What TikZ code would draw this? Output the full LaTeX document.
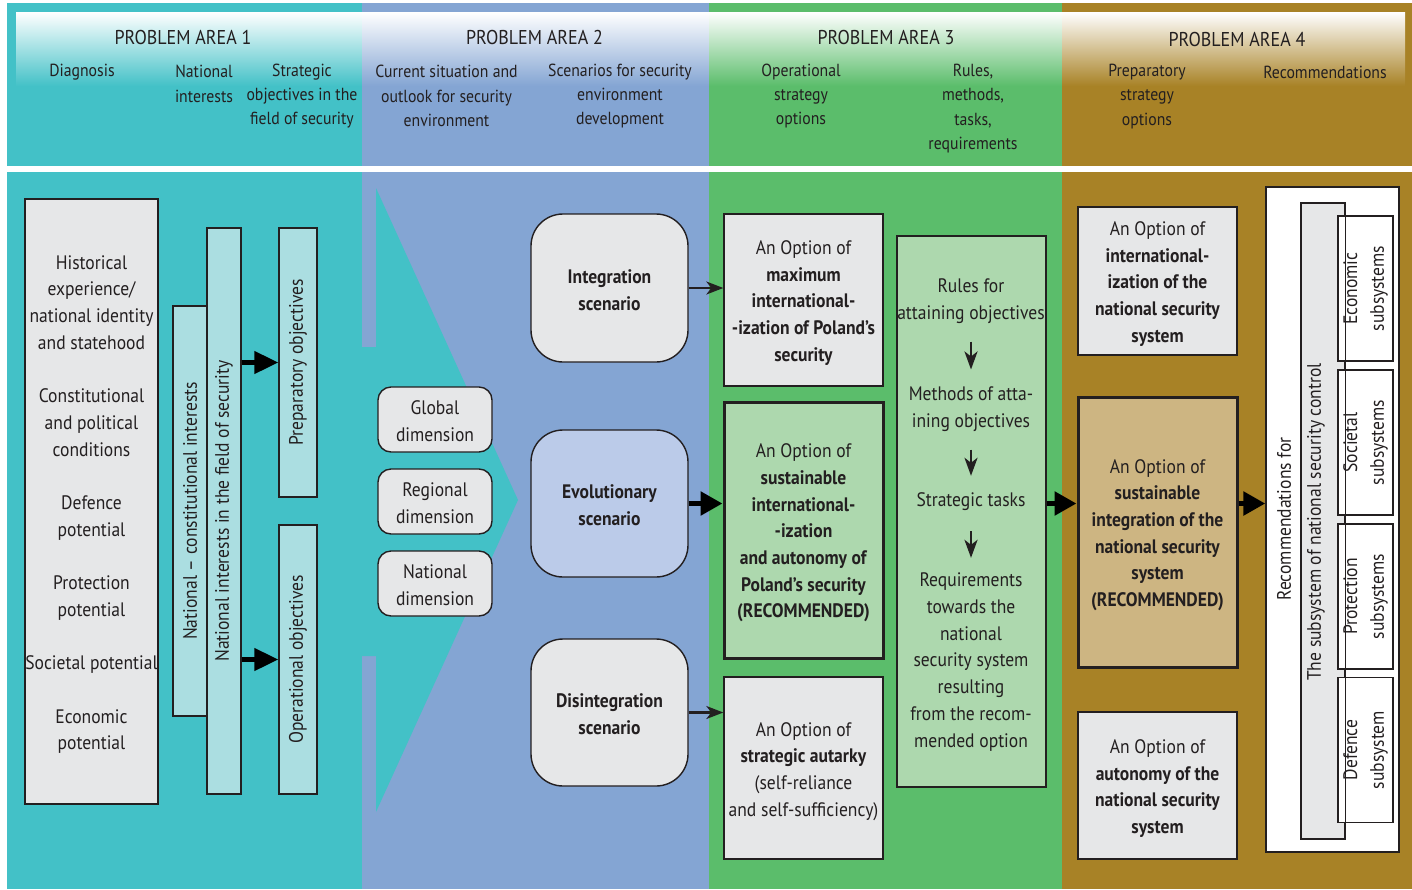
\documentclass[tikz,border=0pt]{standalone}
\usepackage{fontspec}
\setmainfont{PT Sans}[FakeStretch=0.9]
\usetikzlibrary{arrows.meta}
\definecolor{ink}{HTML}{231F20}
\definecolor{areaA}{HTML}{43C1C7}
\definecolor{areaB}{HTML}{84A5D3}
\definecolor{areaC}{HTML}{5BBD6B}
\definecolor{areaD}{HTML}{A88226}
\definecolor{boxgray}{HTML}{E6E7E8}
\definecolor{boxteal}{HTML}{ABDEE1}
\definecolor{boxgreen}{HTML}{ADD8AE}
\definecolor{boxtan}{HTML}{CDB582}
\definecolor{boxblue}{HTML}{BBCBE9}
\newcommand\bodyfont{\fontsize{19.5}{26.7}\selectfont}
\newcommand\headfont{\fontsize{20}{24}\selectfont}
\newcommand\subfont{\fontsize{17.5}{24.3}\selectfont}

\begin{document}
\begin{tikzpicture}[x=1pt,y=-1pt,
  txt/.style={text=ink, font=\bodyfont, align=center, inner sep=0pt},
  hd/.style={text=ink, font=\headfont, inner sep=0pt},
  sub/.style={text=ink, font=\subfont, align=center, inner sep=0pt},
  box/.style={draw=ink, line width=1.4pt, fill=boxgray, inner sep=0pt},
  keybox/.style={box, line width=3pt},
  vbar/.style={box, txt, fill=boxteal, rotate=90},
  dimbox/.style={box, rounded corners=13pt},
  scenbox/.style={box, rounded corners=32pt},
  subbox/.style={box, txt, fill=white, line width=1.1pt, rotate=90, minimum width=145pt, minimum height=55pt},
  thinarrow/.style={draw=ink, line width=2.2pt, -{Stealth[length=17pt,width=13pt,inset=5pt]}},
  downarrow/.style={draw=ink, line width=2.6pt, -{Stealth[length=18pt,width=13pt,inset=5pt]}},
  fatarrow/.style={draw=black, line width=4.5pt, -{Triangle[length=24pt,width=22pt]}},
  widearrow/.style={draw=black, line width=5.5pt, -{Triangle[length=22pt,width=23pt]}},
]
\useasboundingbox (0,0) rectangle (1412,889);
\fill[white] (0,0) rectangle (1412,889);

% header band: four problem areas with a white fade at the top
\fill[areaA] (7,3) rectangle (362,166);
\fill[areaB] (362,3) rectangle (709,166);
\fill[areaC] (709,3) rectangle (1062,166);
\fill[areaD] (1062,3) rectangle (1412,166);
\shade[top color=white, bottom color=areaA] (16,12) rectangle (362,86);
\shade[top color=white, bottom color=areaB] (362,12) rectangle (709,86);
\shade[top color=white, bottom color=areaC] (709,12) rectangle (1062,86);
\shade[top color=white, bottom color=areaD] (1062,12) rectangle (1405,86);

% main panels
\fill[areaA] (7,172) rectangle (362,889);
\fill[areaB] (362,172) rectangle (709,889);
\fill[areaC] (709,172) rectangle (1062,889);
\fill[areaD] (1062,172) rectangle (1412,889);
% the first area reaching into the second as a wide arrow
\fill[areaA] (361,347) -- (376,347) -- (376,188) -- (518,500) -- (376,812)
  -- (376,656) -- (361,656) -- cycle;

% header texts
\node[hd] (pa1) at (183,37) {PROBLEM AREA 1};
\node[hd] (pa2) at (534.5,37) {PROBLEM AREA 2};
\node[hd] (pa3) at (886,37) {PROBLEM AREA 3};
\node[hd] (pa4) at (1237,39) {PROBLEM AREA 4};
\node[sub] (h1) at (82,72) {Diagnosis};
\node[sub] (h2) at (204,84) {National\\interests};
\node[sub] (h3) at (302,96) {Strategic\\objectives in the\\field of security};
\node[sub] (h4) at (446.5,96) {Current situation and\\outlook for security\\environment};
\node[sub] (h5) at (620,96) {Scenarios for security\\environment\\development};
\node[sub] (h6) at (801,96) {Operational\\strategy\\options};
\node[sub] (h7) at (973,108.5) {Rules,\\methods,\\tasks,\\requirements};
\node[sub] (h8) at (1147,96.5) {Preparatory\\strategy\\options};
\node[sub] (h9) at (1325,72) {Recommendations};

% problem area 1
\node[box, minimum width=133pt, minimum height=605pt] (hist) at (91.5,501.5) {};
\node[txt] (histT) at ([yshift=-3pt]hist.center)
  {Historical\\experience/\\national identity\\and statehood\\[26.7pt]Constitutional\\and political\\conditions\\[26.7pt]Defence\\potential\\[26.7pt]Protection\\potential\\[26.7pt]Societal potential\\[26.7pt]Economic\\potential};
\node[vbar, minimum width=410pt, minimum height=34pt] (natcon) at (190,511) {National – constitutional interests};
\node[vbar, minimum width=566pt, minimum height=34pt] (natsec) at (224,511) {National interests in the field of security};
\node[vbar, minimum width=269pt, minimum height=38pt] (prep) at (298,362.5) {Preparatory objectives};
\node[vbar, minimum width=269pt, minimum height=38pt] (oper) at (298,659.5) {Operational objectives};
\draw[fatarrow] (natsec.south |- prep.north) -- (prep.north);
\draw[fatarrow] (natsec.south |- oper.north) -- (oper.north);

% problem area 2
\node[dimbox, minimum width=114pt, minimum height=65pt] (glob) at (435,419.5) {};
\node[txt] (globT) at ([yshift=-1.5pt]glob.center) {Global\\dimension};
\node[dimbox, minimum width=114pt, minimum height=65pt] (regio) at (435,501.5) {};
\node[txt] (regioT) at ([yshift=-1.5pt]regio.center) {Regional\\dimension};
\node[dimbox, minimum width=114pt, minimum height=65pt] (natio) at (435,583.5) {};
\node[txt] (natioT) at ([yshift=-1.5pt]natio.center) {National\\dimension};
\node[scenbox, minimum width=157pt, minimum height=148pt] (integ) at (609.5,288) {};
\node[txt, font=\bodyfont\bfseries] (integT) at ([yshift=-2pt]integ.center) {Integration\\scenario};
\node[scenbox, fill=boxblue, minimum width=157pt, minimum height=147pt] (evol) at (609.5,503.5) {};
\node[txt, font=\bodyfont\bfseries] (evolT) at ([yshift=-2pt]evol.center) {Evolutionary\\scenario};
\node[scenbox, minimum width=157pt, minimum height=147pt] (disint) at (609.5,712.5) {};
\node[txt, font=\bodyfont\bfseries] (disintT) at ([yshift=-2pt]disint.center) {Disintegration\\scenario};

% problem area 3
\node[box, minimum width=159pt, minimum height=172pt] (maxi) at (803.5,300) {};
\node[txt] (maxiT) at ([yshift=-3pt]maxi.center)
  {An Option of\\\textbf{maximum}\\\textbf{international-}\\\textbf{-ization of Poland’s}\\\textbf{security}};
\node[keybox, fill=boxgreen, minimum width=159pt, minimum height=256pt] (sustI) at (803.5,530) {};
\node[txt] (sustIT) at ([yshift=-3pt]sustI.center)
  {An Option of\\\textbf{sustainable}\\\textbf{international-}\\\textbf{-ization}\\\textbf{and autonomy of}\\\textbf{Poland’s security}\\\textbf{(RECOMMENDED)}};
\node[box, minimum width=159pt, minimum height=182pt] (autarky) at (803.5,768) {};
\node[txt] (autarkyT) at ([yshift=-3.5pt]autarky.center)
  {An Option of\\\textbf{strategic autarky}\\(self-reliance\\and self-sufficiency)};
\node[box, fill=boxgreen, minimum width=149pt, minimum height=551pt] (rules) at (971.5,511.5) {};
\node[txt] (r1) at (971,301) {Rules for\\attaining objectives};
\node[txt] (r2) at (971,409) {Methods of atta-\\ining objectives};
\node[txt] (r3) at (971,502) {Strategic tasks};
\node[txt] (r4) at (971,662) {Requirements\\towards the\\national\\security system\\resulting\\from the recom-\\mended option};
\draw[downarrow] ([yshift=-18pt]r1.south) -- ([yshift=17pt]r2.north);
\draw[downarrow] ([yshift=-18pt]r2.south) -- ([yshift=17pt]r3.north);
\draw[downarrow] ([yshift=-20pt]r3.south) -- ([yshift=15pt]r4.north);

\draw[thinarrow] (integ.east) -- (integ.east -| maxi.west);
\draw[widearrow] (evol.east) -- (evol.east -| sustI.west);
\draw[thinarrow] (disint.east) -- (disint.east -| autarky.west);

% problem area 4
\node[box, minimum width=159pt, minimum height=148pt] (intl) at (1157.5,281) {};
\node[txt] (intlT) at ([yshift=-3pt]intl.center)
  {An Option of\\\textbf{international-}\\\textbf{ization of the}\\\textbf{national security}\\\textbf{system}};
\node[keybox, fill=boxtan, minimum width=159pt, minimum height=270pt] (sustB) at (1157.5,532) {};
\node[txt] (sustBT) at ([yshift=-3pt]sustB.center)
  {An Option of\\\textbf{sustainable}\\\textbf{integration of the}\\\textbf{national security}\\\textbf{system}\\\textbf{(RECOMMENDED)}};
\node[box, minimum width=159pt, minimum height=147pt] (auto) at (1157.5,785.5) {};
\node[txt] (autoT) at ([yshift=-3pt]auto.center)
  {An Option of\\\textbf{autonomy of the}\\\textbf{national security}\\\textbf{system}};
\node[box, fill=white, minimum width=133pt, minimum height=665pt] (recbox) at (1332.5,519.5) {};
\node[txt, rotate=90] (rectxt) at (1284,519) {Recommendations for};
\node[box, minimum width=44pt, minimum height=636pt] (ctrl) at (1323,521) {};
\node[subbox] (econ) at (1365.5,288.5) {Economic\\subsystems};
\node[subbox] (soc) at (1365.5,442.5) {Societal\\subsystems};
\node[subbox] (prot) at (1365.5,596.5) {Protection\\subsystems};
\node[subbox] (def) at (1365.5,750) {Defence\\subsystem};
\draw[ink, line width=1.4pt] (ctrl.north west) rectangle (ctrl.south east);
\node[txt, rotate=90] (ctrltxt) at (1316,522) {The subsystem of national security control};

\draw[widearrow] (rules.east |- evol.east) -- (sustB.west |- evol.east);
\draw[widearrow] (sustB.east |- evol.east) -- (recbox.west |- evol.east);
\end{tikzpicture}
\end{document}
